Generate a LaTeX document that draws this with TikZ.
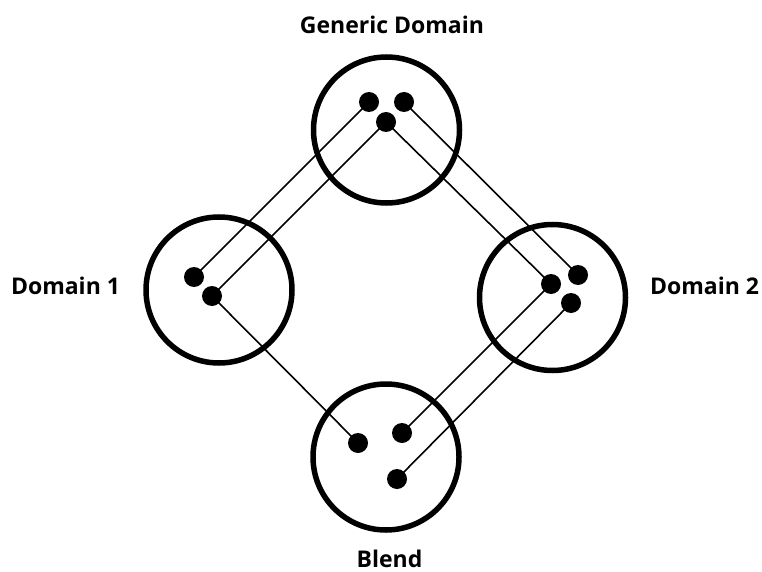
\documentclass[tikz,border=0pt]{standalone}
\usepackage{fontspec}
\setmainfont{Open Sans}[BoldFont={Open Sans Bold}]
\begin{document}
\begin{tikzpicture}[x=1pt,y=-1pt,
  ring/.style={circle,draw,line width=5.5pt,minimum size=146pt,inner sep=0pt},
  dot/.style={circle,fill,minimum size=20pt,inner sep=0pt},
  link/.style={line width=1.6pt},
  lbl/.style={font=\bfseries\fontsize{23}{26}\selectfont,anchor=base,inner sep=0pt}]
\useasboundingbox (0,0) rectangle (762,572);
\node[ring] (G) at (386.5,130) {};
\node[ring] (D1) at (219,290) {};
\node[ring] (D2) at (552.5,297.5) {};
\node[ring] (B) at (386,457) {};
\node[lbl] (lG) at (392,34) {Generic Domain};
\node[lbl] (lD1) at (65.5,294) {Domain 1};
\node[lbl] (lD2) at (704.5,294) {Domain 2};
\node[lbl,text depth=0pt] (lB) at (389.5,567) {Blend};
\node[dot] (g1) at (369,102) {};
\node[dot] (g2) at (404,102) {};
\node[dot] (g3) at (386,122) {};
\node[dot] (a1) at (194,277) {};
\node[dot] (a2) at (212,296) {};
\node[dot] (c1) at (551,284) {};
\node[dot] (c2) at (578,275) {};
\node[dot] (c3) at (571,303) {};
\node[dot] (b1) at (358,443) {};
\node[dot] (b2) at (402,433) {};
\node[dot] (b3) at (397,479) {};
\draw[link] (g1.center) -- (a1.center);
\draw[link] (g3.center) -- (a2.center);
\draw[link] (g2.center) -- (c2.center);
\draw[link] (g3.center) -- (c1.center);
\draw[link] (a2.center) -- (b1.center);
\draw[link] (c1.center) -- (b2.center);
\draw[link] (c3.center) -- (b3.center);
\end{tikzpicture}
\end{document}
